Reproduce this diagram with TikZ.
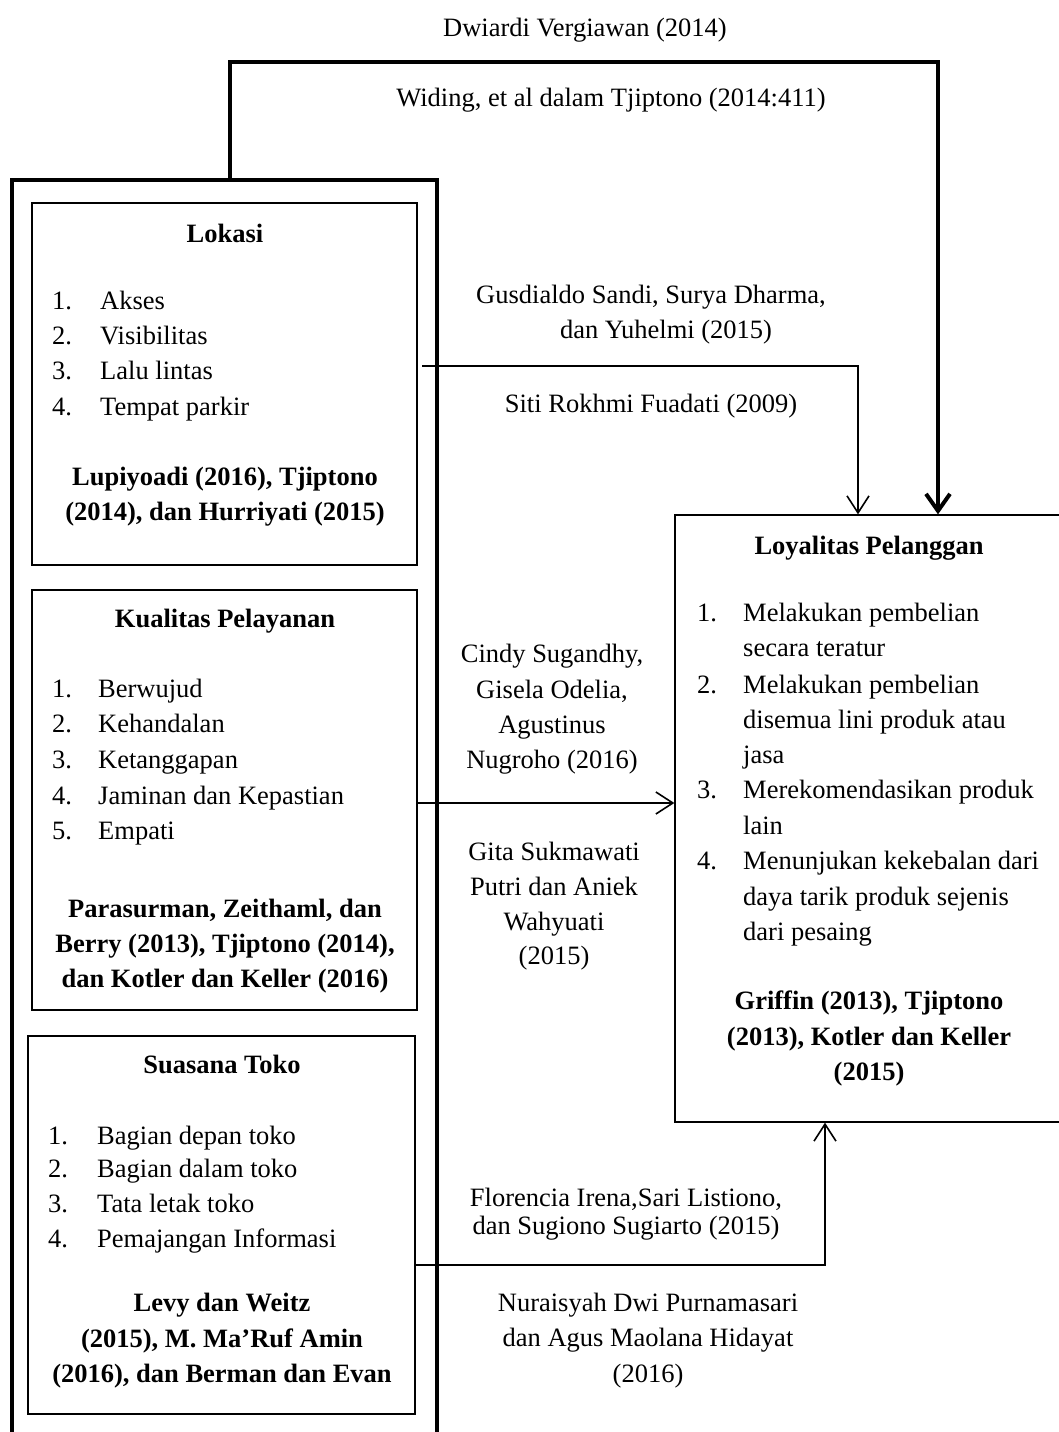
\documentclass[tikz,border=0pt]{standalone}
\usepackage{fontspec}
\setmainfont{Liberation Serif}
\usetikzlibrary{arrows.meta,calc}
\tikzset{
  txt/.style={font=\fontsize{26.5}{35.3}\selectfont, inner sep=0pt, anchor=base},
  lft/.style={txt, anchor=base west},
  bx/.style={draw, line width=1.3pt, rectangle, inner sep=0pt},
  frame/.style={line width=4pt},
  conn/.style={line width=1.6pt, -{Straight Barb[length=17pt,width=22pt,line width=1.6pt]}},
  bigconn/.style={line width=4pt, -{Straight Barb[length=17pt,width=24pt,line width=4pt]}}
}
\begin{document}
\begin{tikzpicture}[x=1pt,y=-1pt]
\useasboundingbox (0,0) rectangle (1059,1432);
\clip (0,0) rectangle (1059,1432);

% boxes
\node[bx, minimum width=385pt, minimum height=362pt] (lok) at (224.5,384) {};
\node[bx, minimum width=385pt, minimum height=420pt] (kua) at (224.5,800) {};
\node[bx, minimum width=387pt, minimum height=378pt] (sua) at (221.5,1225) {};
\node[bx, minimum width=400pt, minimum height=607pt] (loy) at (875,818.5) {};

% outer thick frame
\draw[frame] (12,1460) -- (12,180) -- (437,180) -- (437,1460);
\coordinate (ftop) at (230,180);
\coordinate (ttop) at (230,62);
\coordinate (tr) at (938,62);
\draw[bigconn] (ftop) -- (ttop) -- (tr) -- (tr |- loy.north);

% connectors
\coordinate (ls) at (422,366);
\coordinate (lc) at (858,366);
\draw[conn] (ls) -- (lc) -- (lc |- loy.north);
\coordinate (k1) at (417,803);
\draw[conn] (k1) -- (k1 -| loy.west);
\coordinate (s1) at (415,1265);
\coordinate (s2) at (825,1265);
\draw[conn] (s1) -- (s2) -- (s2 |- loy.south);

% top labels
\node[txt] (t1) at (585,36) {Dwiardi Vergiawan (2014)};
\node[txt] (t2) at (611,106) {Widing, et al dalam Tjiptono (2014:411)};

% Lokasi
\node[txt] (lokt) at (225,242) {\textbf{Lokasi}};
\node[lft] (ln1) at (52,309) {1.};  \node[lft] (li1) at (100,309) {Akses};
\node[lft] (ln2) at (52,344) {2.};  \node[lft] (li2) at (100,344) {Visibilitas};
\node[lft] (ln3) at (52,379) {3.};  \node[lft] (li3) at (100,379) {Lalu lintas};
\node[lft] (ln4) at (52,415) {4.};  \node[lft] (li4) at (100,415) {Tempat parkir};
\node[txt] (lb1) at (225,485) {\textbf{Lupiyoadi (2016), Tjiptono}};
\node[txt] (lb2) at (225,520) {\textbf{(2014), dan Hurriyati (2015)}};

% Kualitas
\node[txt] (kuat) at (225,627) {\textbf{Kualitas Pelayanan}};
\node[lft] (kn1) at (52,697) {1.};  \node[lft] (ki1) at (98,697) {Berwujud};
\node[lft] (kn2) at (52,732) {2.};  \node[lft] (ki2) at (98,732) {Kehandalan};
\node[lft] (kn3) at (52,768) {3.};  \node[lft] (ki3) at (98,768) {Ketanggapan};
\node[lft] (kn4) at (52,804) {4.};  \node[lft] (ki4) at (98,804) {Jaminan dan Kepastian};
\node[lft] (kn5) at (52,839) {5.};  \node[lft] (ki5) at (98,839) {Empati};
\node[txt] (kb1) at (225,917) {\textbf{Parasurman, Zeithaml, dan}};
\node[txt] (kb2) at (225,952) {\textbf{Berry (2013), Tjiptono (2014),}};
\node[txt] (kb3) at (225,987) {\textbf{dan Kotler dan Keller (2016)}};

% Suasana
\node[txt] (suat) at (222,1073) {\textbf{Suasana Toko}};
\node[lft] (sn1) at (48,1144) {1.};  \node[lft] (si1) at (97,1144) {Bagian depan toko};
\node[lft] (sn2) at (48,1177) {2.};  \node[lft] (si2) at (97,1177) {Bagian dalam toko};
\node[lft] (sn3) at (48,1212) {3.};  \node[lft] (si3) at (97,1212) {Tata letak toko};
\node[lft] (sn4) at (48,1247) {4.};  \node[lft] (si4) at (97,1247) {Pemajangan Informasi};
\node[txt] (sb1) at (222,1311) {\textbf{Levy dan Weitz}};
\node[txt] (sb2) at (222,1347) {\textbf{(2015), M. Ma’Ruf Amin}};
\node[txt] (sb3) at (222,1382) {\textbf{(2016), dan Berman dan Evan}};

% Loyalitas
\node[txt] (loyt) at (869,554) {\textbf{Loyalitas Pelanggan}};
\node[lft] (yn1) at (697,621) {1.};  \node[lft] (yi1) at (743,621) {Melakukan pembelian};
                                     \node[lft] (yi1b) at (743,656) {secara teratur};
\node[lft] (yn2) at (697,693) {2.};  \node[lft] (yi2) at (743,693) {Melakukan pembelian};
                                     \node[lft] (yi2b) at (743,728) {disemua lini produk atau};
                                     \node[lft] (yi2c) at (743,763) {jasa};
\node[lft] (yn3) at (697,798) {3.};  \node[lft] (yi3) at (743,798) {Merekomendasikan produk};
                                     \node[lft] (yi3b) at (743,834) {lain};
\node[lft] (yn4) at (697,869) {4.};  \node[lft] (yi4) at (743,869) {Menunjukan kekebalan dari};
                                     \node[lft] (yi4b) at (743,905) {daya tarik produk sejenis};
                                     \node[lft] (yi4c) at (743,940) {dari pesaing};
\node[txt] (yb1) at (869,1009) {\textbf{Griffin (2013), Tjiptono}};
\node[txt] (yb2) at (869,1045) {\textbf{(2013), Kotler dan Keller}};
\node[txt] (yb3) at (869,1080) {\textbf{(2015)}};

% middle labels
\node[txt] (g1) at (651,303) {Gusdialdo Sandi, Surya Dharma,};
\node[txt] (g2) at (666,338) {dan Yuhelmi (2015)};
\node[txt] (sr) at (651,412) {Siti Rokhmi Fuadati (2009)};
\node[txt] (c1) at (552,662) {Cindy Sugandhy,};
\node[txt] (c2) at (552,698) {Gisela Odelia,};
\node[txt] (c3) at (552,733) {Agustinus};
\node[txt] (c4) at (552,768) {Nugroho (2016)};
\node[txt] (gs1) at (554,860) {Gita Sukmawati};
\node[txt] (gs2) at (554,895) {Putri dan Aniek};
\node[txt] (gs3) at (554,930) {Wahyuati};
\node[txt] (gs4) at (554,964) {(2015)};
\node[txt] (f1) at (626,1206) {Florencia Irena,Sari Listiono,};
\node[txt] (f2) at (626,1234) {dan Sugiono Sugiarto (2015)};
\node[txt] (n1) at (648,1311) {Nuraisyah Dwi Purnamasari};
\node[txt] (n2) at (648,1346) {dan Agus Maolana Hidayat};
\node[txt] (n3) at (648,1382) {(2016)};
\end{tikzpicture}
\end{document}
